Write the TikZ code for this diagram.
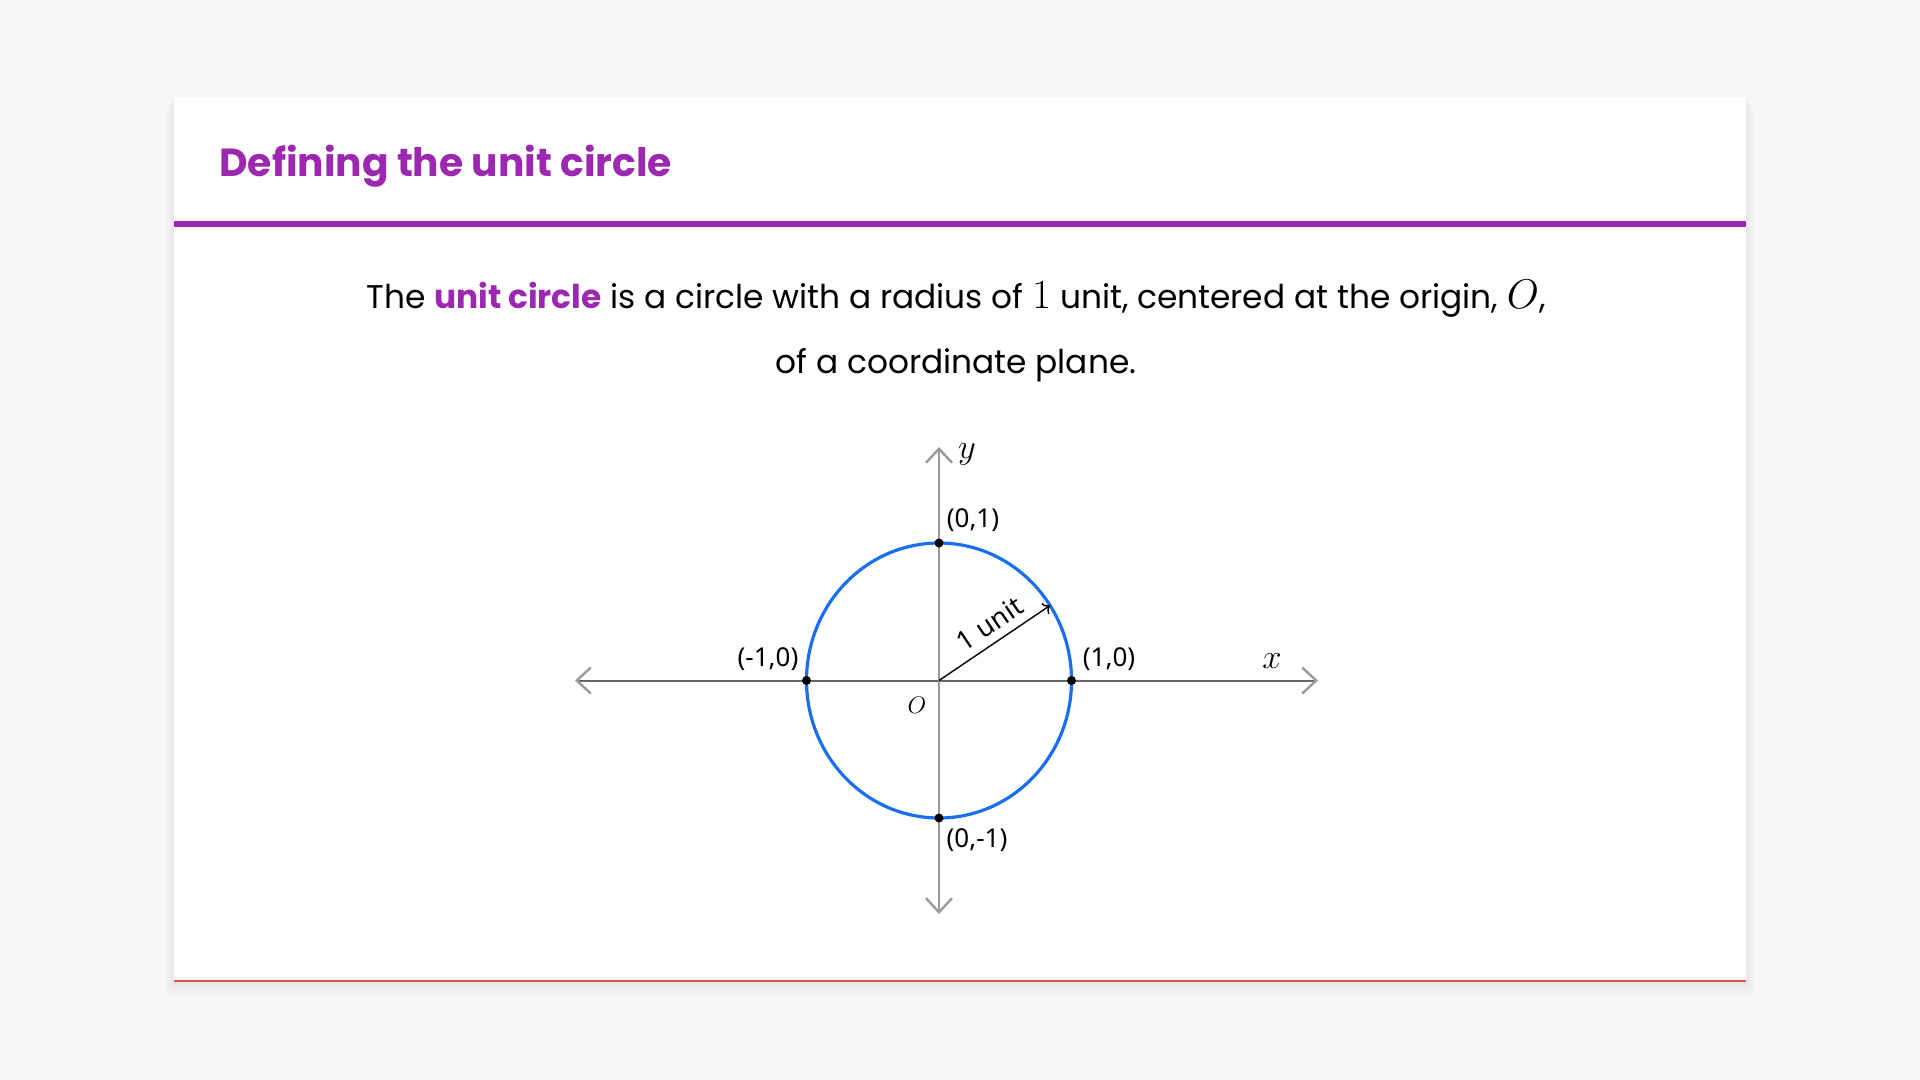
\documentclass[tikz,border=0pt]{standalone}
\usepackage{fontspec}
\setmainfont{Poppins}
\newfontfamily\labelfont{Noto Sans}
\usetikzlibrary{arrows.meta}
\definecolor{pagegray}{HTML}{F7F7F7}
\definecolor{unitpurple}{HTML}{9C27B0}
\definecolor{circleblue}{HTML}{1A6FF0}
\definecolor{xaxisgray}{HTML}{666666}
\definecolor{yaxisgray}{HTML}{9A9A9A}
\definecolor{edgered}{HTML}{D9534F}
\newcommand{\kmath}[1]{{\fontsize{19.8}{22}\selectfont$#1$}}
\tikzset{
  barb/.tip={Straight Barb[length=7pt,width=13pt,line width=1.2pt]},
  ptlabel/.style={font=\labelfont\fontsize{13}{15}\selectfont, inner sep=0pt},
  axislabel/.style={inner sep=0pt, font=\fontsize{18.5}{20}\selectfont},
  dot/.style={fill=black},
}
\begin{document}
\begin{tikzpicture}[x=0.5pt,y=-0.5pt]
    % Page background and the card with a soft shadow.
    \fill[pagegray] (0,0) rectangle (1920,1080);
    \foreach \s in {1,...,8}
      \fill[black, opacity=0.006] (174-\s,98+\s) rectangle (1746+\s,981+\s*2);
    \fill[white] (174,98) rectangle (1746,981);
    \draw[edgered, line width=0.9pt] (174,981) -- (1746,981);
    % Title and its rule.
    \node[anchor=base west, inner sep=0pt, text=unitpurple, font=\fontsize{19.6}{24}\selectfont\bfseries] (title) at (219,177) {Defining the unit circle};
    \draw[unitpurple, line width=3pt] (174,224) -- (1746,224);
    % The definition, two lines.
    \node[anchor=base, inner sep=0pt, font=\fontsize{16.4}{20}\selectfont] (intro1) at (956,309) {The {\bfseries\color{unitpurple}unit circle} is a circle with a radius of \kmath{1} unit, centered at the origin, \kmath{O},};
    \node[anchor=base, inner sep=0pt, font=\fontsize{16.4}{20}\selectfont] (intro2) at (956,373) {of a coordinate plane.};
    % Axes.
    \coordinate (O) at (939,680.5);
    \coordinate (xl) at (575,680.5);
    \coordinate (xr) at (1318,680.5);
    \coordinate (yt) at (939,447);
    \coordinate (yb) at (939,914);
    \draw[xaxisgray, line width=1pt, {barb[yaxisgray]}-{barb[yaxisgray]}] (xl) -- (xr);
    \draw[yaxisgray, line width=1.1pt, barb-barb] (yb) -- (yt);
    % The circle, its radius and the four points on the axes.
    \draw[circleblue, line width=1.6pt] (O) ellipse[x radius=132.5, y radius=137.5];
    \coordinate (rim) at (1050,605.5);
    \draw[line width=0.7pt, ->] (O) -- (rim)
      node[pos=0.55, above, sloped, ptlabel, font=\labelfont\fontsize{13.5}{15}\selectfont, inner sep=0pt, yshift=4pt] (unitlbl) {1 unit};
    \coordinate (p10) at (1071.5,680.5);
    \coordinate (pm10) at (806.5,680.5);
    \coordinate (p01) at (939,543);
    \coordinate (p0m1) at (939,818);
    \foreach \p in {p10,pm10,p01,p0m1}
      \fill[dot] (\p) circle[radius=4.5];
    % Labels.
    \node[ptlabel] (l01) at (973,520) {(0,1)};
    \node[ptlabel] (l10) at (1109,659) {(1,0)};
    \node[ptlabel] (lm10) at (768,659) {(-1,0)};
    \node[ptlabel] (l0m1) at (977,840) {(0,-1)};
    \node[inner sep=0pt, font=\fontsize{12}{14}\selectfont] (lO) at (917,705) {$O$};
    \node[axislabel] (lx) at (1272,661) {$x$};
    \node[axislabel] (ly) at (967,454) {$y$};
\end{tikzpicture}
\end{document}
